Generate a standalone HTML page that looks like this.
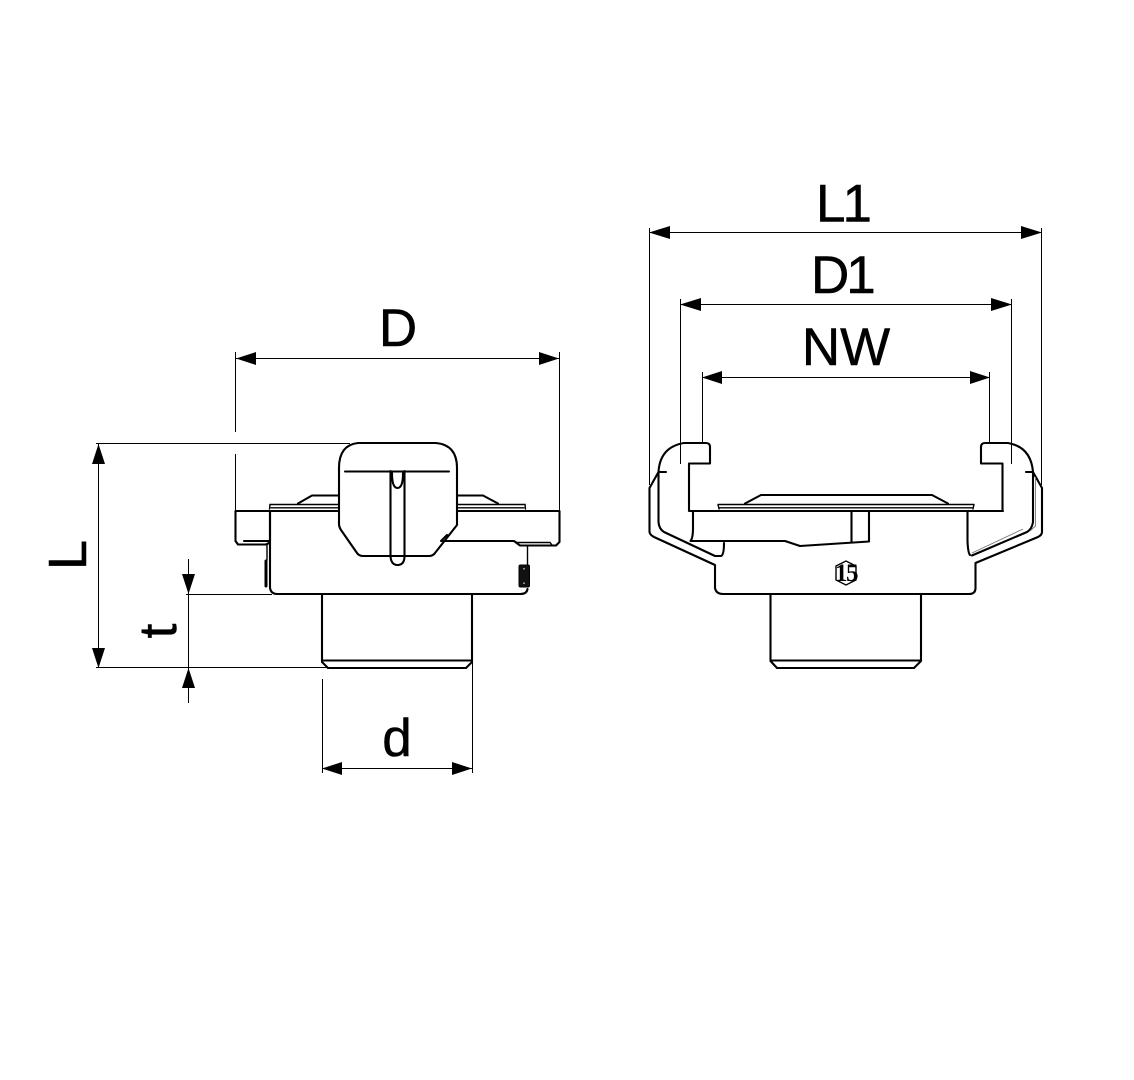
<!DOCTYPE html>
<html><head><meta charset="utf-8"><style>
html,body{margin:0;padding:0;background:#fff;width:1134px;height:1080px;overflow:hidden}
svg{display:block}
text{font-family:"Liberation Sans",sans-serif;fill:#000;stroke:#000;stroke-width:.5}
.t{fill:none;stroke:#000;stroke-width:2.1;stroke-linejoin:round;stroke-linecap:round}
.n{fill:none;stroke:#000;stroke-width:1.4;stroke-linecap:round}
.d{fill:none;stroke:#000;stroke-width:1}
.g{fill:none;stroke:#777;stroke-width:.9}
</style></head><body>
<svg width="1134" height="1080" viewBox="0 0 1134 1080" xmlns="http://www.w3.org/2000/svg">
<!-- LEFT dimension lines -->
<path class="d" d="M235.500 352V432M235.500 454V511M559.500 352V511M236 358.500H559M96 443.500H350M98.500 444V668M96 667.500H330M186 594.500H272M188.500 559V703M322.500 679V773M472.500 660V773M322 768.500H472"/>
<path d="M236 358.500L256 352V365ZM559 358.500L539 352V365ZM98.500 444L92 464H105ZM98.500 668L92 648H105ZM188.500 594L182 574H195ZM188.500 668L182 688H195ZM322 768.500L342 762V775ZM472 768.500L452 762V775Z"/>
<text x="398" y="346" font-size="53" text-anchor="middle">D</text>
<text x="397" y="756" font-size="53" text-anchor="middle">d</text>
<text transform="translate(86,555) rotate(-90)" font-size="54" text-anchor="middle">L</text>
<text transform="translate(176,631) rotate(-90)" font-size="53" text-anchor="middle">t</text>
<!-- LEFT part -->
<path class="t" d="M358 443H436Q457 445 457 468V525L435 553Q433 556 429 556H363Q359 556 357 553L341 530Q339 527 339 524V468Q339 445 358 443Z"/>
<path class="t" d="M345 471.500H449M390.500 471V556Q391 565 397.500 565Q404.500 565 404.500 556V471M392 473Q392 488 397.500 488Q403 488 403 473"/>
<path class="t" d="M339 495.500H312L298 503.500M457 495.500H483L498 503.500"/>
<path class="n" d="M270 504.500H339M457 504.500H525M271 507.800H339M457 507.800H524"/>
<path class="n" d="M270 504.500L269.500 509M525 504.500L525.500 509"/>
<path class="t" d="M339 511H270M457 511H559.500V542L556 545.500H520L514 541H441L447 535M235.500 511H270V541H244M235.500 511V541L238 544.500H266L269 543"/>
<path class="n" d="M516 542.500H550L552 545"/>
<path class="t" d="M270 511V588Q271 594 277 594H520Q527 594 527.500 589"/>
<path class="t" style="stroke-width:3" d="M266 561V586"/>
<path class="n" d="M527.500 546V565M267 545V560"/>
<path class="t" d="M322 594V662L328 668H466L472 662V594M322 660.500H472"/>
<rect x="519" y="565" width="10.500" height="22" rx="1.500" fill="#111" stroke="#000"/>
<path stroke="#bbb" stroke-width="1.500" d="M524 568V569.500M524 582.500V584" fill="none"/>
<!-- RIGHT dimension lines -->
<path class="d" d="M649.500 228V485M1041.500 228V485M650 232.500H1041M680.500 299V464M1011.500 299V464M681 304.500H1011M702.500 372V443M989.500 372V443M703 377.500H989"/>
<path d="M649 232.500L670 226V239ZM1042 232.500L1021 226V239ZM680 304.500L701 298V311ZM1012 304.500L991 298V311ZM702 377.500L722 371V384ZM990 377.500L970 371V384Z"/>
<text x="816" y="221.500" font-size="53" style="letter-spacing:-3px">L1</text>
<text x="811" y="293" font-size="53" style="letter-spacing:-3px">D1</text>
<text x="846" y="365" font-size="53" text-anchor="middle">NW</text>
<!-- RIGHT part -->
<path class="t" d="M706 443H684Q660 447 658.500 472V522Q659 529 664 532L715 556H721Q724 555 724 543"/>
<path class="t" d="M658.500 472L649.500 488V532Q650 535 654 537L715 565V588Q716 594 723 594H969Q975.500 594 975.500 588V563L1038 537Q1042 535 1042 532V488L1033 472"/>
<path class="t" d="M660 472H666M1026 472H1033M706 443Q710 443 710 447V463.500H689V511H693V528Q693 538 690.500 541H785L800 546L869 541.500V511M851.500 511V541.500"/>
<path class="t" d="M770.500 594V661L777 668H914L921 661V594M770.500 660.500H921"/>
<path class="n" d="M718 504.500H974M719 507.800H973M718 504.500L719 509M974 504.500L973 509"/>
<path class="t" d="M693 511H1003M745 503.500L761 495H932L948 503.500"/>
<path class="t" d="M986 443H1008Q1031 447 1033 472V522Q1032 529 1027 532L972 555.500M985 443Q981 443 981 447V463.500H1002.500V511M967.500 511V541Q968 553 970 555"/>
<path class="g" d="M972 553L1023 529M1035.500 477V526L1030 531"/>
<!-- logo -->
<text x="846" y="581" font-size="25" font-weight="bold" text-anchor="middle" style="font-family:'Liberation Serif',serif;letter-spacing:-1.500px;stroke-width:0">15</text>
<path class="n" d="M836 566L846 561L856 566V580L846 585L836 580Z"/>
</svg>
</body></html>
